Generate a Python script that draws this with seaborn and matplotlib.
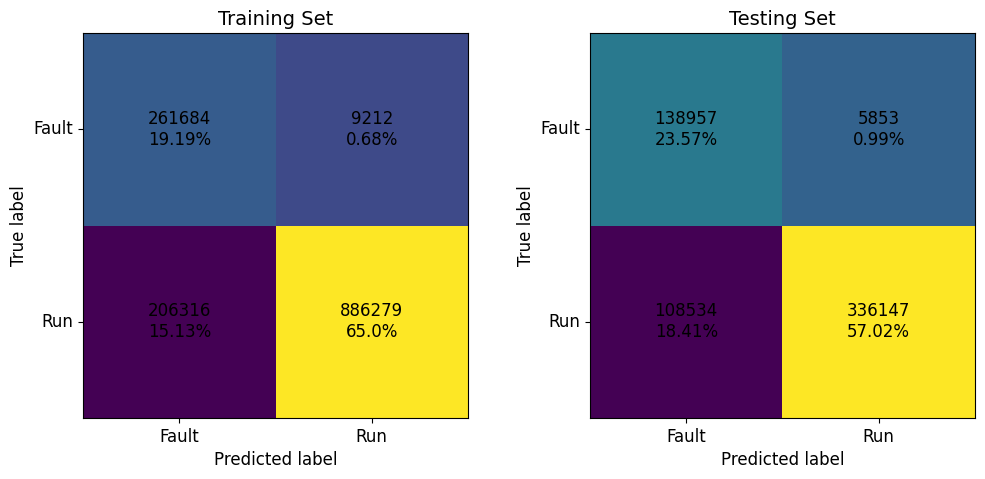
import numpy as np
import matplotlib
matplotlib.use("Agg")
import matplotlib.pyplot as plt
import seaborn as sns

# Confusion matrices (rows = true label, cols = predicted label)
class_names = ["Fault", "Run"]
train_cm = np.array([[261684, 9212],
                     [206316, 886279]])
test_cm = np.array([[138957, 5853],
                    [108534, 336147]])
titles = ["Training Set", "Testing Set"]


def make_labels(cm):
    total = cm.sum()
    labels = np.empty(cm.shape, dtype=object)
    for i in range(cm.shape[0]):
        for j in range(cm.shape[1]):
            labels[i, j] = f"{cm[i, j]}\n{round(cm[i, j] / total * 100, 2)}%"
    return labels


fig, axes = plt.subplots(1, 2, figsize=(9.85, 4.79), dpi=100)
fig.subplots_adjust(left=0.0843, right=0.9898, top=0.9311, bottom=0.1273, wspace=0.317)

for ax, cm, title in zip(axes, [train_cm, test_cm], titles):
    # colours come from the transposed matrix, as in the original figure
    sns.heatmap(cm.T, annot=make_labels(cm), fmt="", cmap="viridis", cbar=False,
                square=True, ax=ax, linewidths=0,
                annot_kws={"color": "black", "fontsize": 12})
    for s in ax.spines.values():
        s.set_visible(True)
        s.set_color("black")
        s.set_linewidth(0.8)
    ax.set_xticks([0.5, 1.5])
    ax.set_yticks([0.5, 1.5])
    ax.set_xticklabels(class_names, fontsize=12)
    ax.set_yticklabels(class_names, fontsize=12, rotation=0)
    ax.tick_params(length=3.5, width=0.8)
    ax.set_title(title, fontsize=14)
    ax.set_xlabel("Predicted label", fontsize=12)
    ax.set_ylabel("True label", fontsize=12)

fig.savefig("out.png", dpi=100)
